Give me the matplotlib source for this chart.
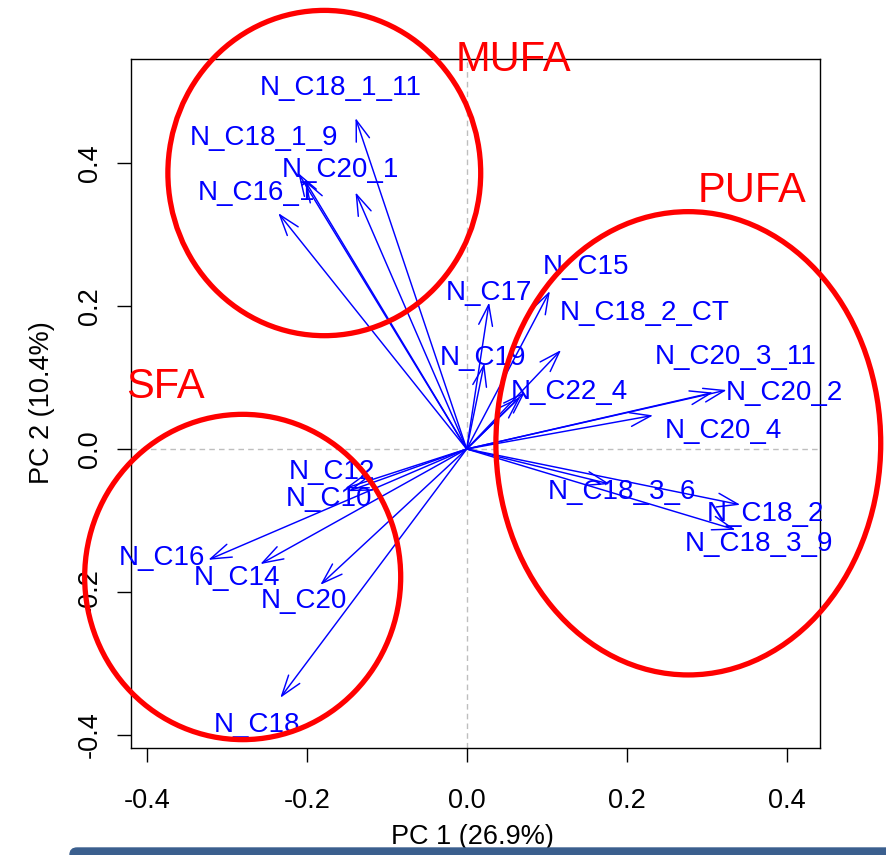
import matplotlib
matplotlib.use('Agg')
import matplotlib.pyplot as plt
from matplotlib.patches import Ellipse, FancyArrowPatch, ArrowStyle, FancyBboxPatch

plt.rcParams['font.family'] = ['Liberation Sans', 'DejaVu Sans']

# variable labels and where their text sits
var_names = ['N_C18_1_11', 'N_C18_1_9', 'N_C20_1', 'N_C16_1',
             'N_C15', 'N_C17', 'N_C18_2_CT', 'N_C19', 'N_C22_4',
             'N_C20_3_11', 'N_C20_2', 'N_C20_4', 'N_C18_3_6', 'N_C18_2', 'N_C18_3_9',
             'N_C12', 'N_C10', 'N_C16', 'N_C14', 'N_C20', 'N_C18']
label_x = [-0.157, -0.253, -0.158, -0.263,
           0.149, 0.028, 0.222, 0.020, 0.128,
           0.336, 0.397, 0.321, 0.194, 0.373, 0.365,
           -0.168, -0.172, -0.381, -0.287, -0.204, -0.262]
label_y = [0.505, 0.435, 0.390, 0.358,
           0.255, 0.218, 0.190, 0.127, 0.080,
           0.129, 0.078, 0.025, -0.060, -0.091, -0.133,
           -0.032, -0.070, -0.152, -0.180, -0.213, -0.386]

# loading arrow tips (PC1, PC2)
arrow_x = [-0.139, -0.2105, -0.203, -0.139, -0.2355,
           0.104, 0.028, 0.022, 0.118, 0.073, 0.067,
           0.325, 0.308, 0.233, 0.179, 0.342, 0.336,
           -0.152, -0.148, -0.323, -0.258, -0.183, -0.233]
arrow_y = [0.463, 0.386, 0.377, 0.359, 0.330,
           0.221, 0.205, 0.120, 0.1385, 0.080, 0.073,
           0.0825, 0.079, 0.047, -0.049, -0.078, -0.113,
           -0.055, -0.059, -0.155, -0.161, -0.190, -0.348]

# group ellipses: name, centre, width, height, label position
groups = ['MUFA', 'PUFA', 'SFA']
grp_cx = [-0.178, 0.277, -0.280]
grp_cy = [0.386, 0.008, -0.179]
grp_w = [0.391, 0.481, 0.395]
grp_h = [0.455, 0.648, 0.455]
grp_lx = [0.059, 0.356, -0.376]
grp_ly = [0.544, 0.361, 0.087]

ticks = [-0.4, -0.2, 0.0, 0.2, 0.4]
tick_labels = ['-0.4', '-0.2', '0.0', '0.2', '0.4']

W, H = 886, 855
fig = plt.figure(figsize=(W / 100, H / 100), dpi=100)
ax = fig.add_axes([131 / W, 1 - 748 / H, (820 - 131) / W, (748 - 59) / H])
ax.set_xlim(-0.4196, 0.4416)
ax.set_ylim(-0.4182, 0.5455)

ax.axhline(0, color='#bebebe', ls=(0, (4, 3)), lw=1, zorder=1)
ax.axvline(0, color='#bebebe', ls=(0, (4, 3)), lw=1, zorder=1)

style = ArrowStyle('->', head_length=15, head_width=5)
for x, y in zip(arrow_x, arrow_y):
    ax.add_patch(FancyArrowPatch((0, 0), (x, y), arrowstyle=style, mutation_scale=1,
                                 color='blue', lw=1.05, shrinkA=0, shrinkB=0, zorder=3))

for name, x, y in zip(var_names, label_x, label_y):
    ax.text(x, y, name, color='blue', fontsize=20, ha='center', va='center', zorder=4)

for i, g in enumerate(groups):
    ax.add_patch(Ellipse((grp_cx[i], grp_cy[i]), grp_w[i], grp_h[i], fill=False,
                         ec='red', lw=3.8, clip_on=False, zorder=5))
    ax.text(grp_lx[i], grp_ly[i], g, color='red', fontsize=30, ha='center', va='center',
            clip_on=False, zorder=5)

ax.set_xticks(ticks)
ax.set_xticklabels(tick_labels)
ax.set_yticks(ticks)
ax.set_yticklabels(tick_labels, rotation=90, va='center')
ax.tick_params(axis='both', length=10, width=1, labelsize=19.5, color='black')
ax.tick_params(axis='x', pad=19)
ax.tick_params(axis='y', pad=10)
for s in ax.spines.values():
    s.set_linewidth(1)

fig.text(472 / W, 1 - 837 / H, 'PC 1 (26.9%)', fontsize=19.5, ha='center', va='center')
fig.text(42 / W, 1 - 403 / H, 'PC 2 (10.4%)', fontsize=19.5, ha='center', va='center',
         rotation=90)

# strip of the window frame along the bottom
fig.patches.append(FancyBboxPatch((70 / W, -0.01), 1, 7 / H + 0.01, transform=fig.transFigure,
                                  boxstyle='round,pad=0,rounding_size=0.008',
                                  color='#3b5f8e', zorder=10))

fig.savefig('out.png', dpi=100)
